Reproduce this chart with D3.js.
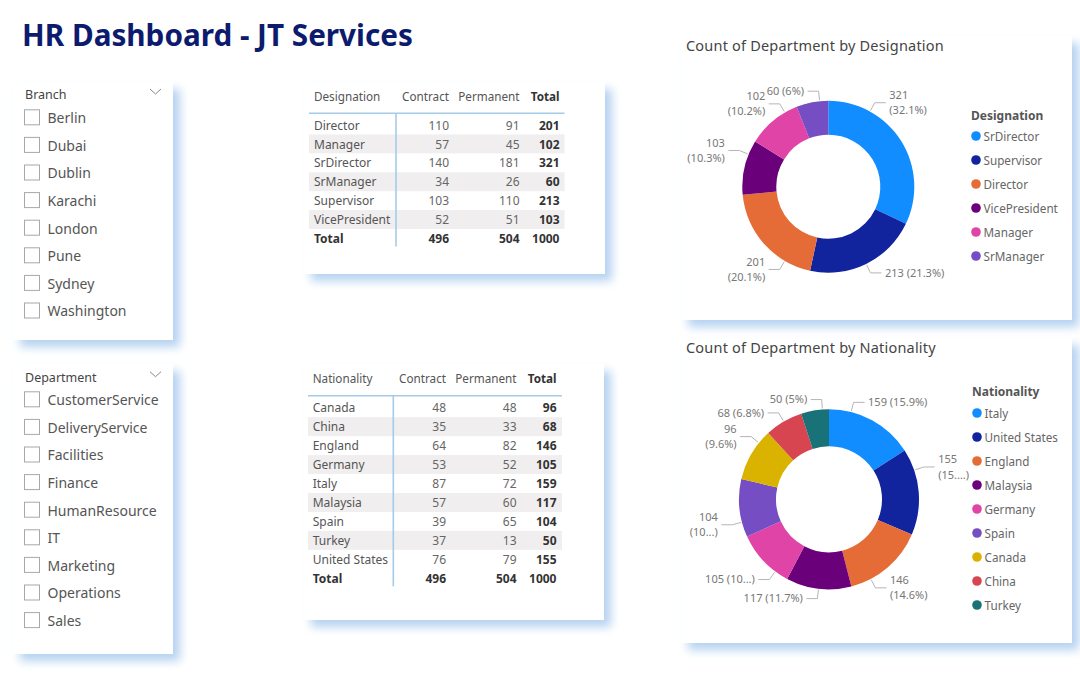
<!DOCTYPE html>
<html>
<head>
<meta charset="utf-8">
<script src="https://cdn.jsdelivr.net/npm/d3@7"></script>
<style>
  html, body { margin: 0; padding: 0; background: #fff; }
  svg { display: block; }
  text { font-family: "Noto Sans", sans-serif; }
</style>
</head>
<body>
<svg id="chart" width="1080" height="675"></svg>
<script>
const branches = ['Berlin', 'Dubai', 'Dublin', 'Karachi', 'London', 'Pune', 'Sydney', 'Washington'];
const departments = ['CustomerService', 'DeliveryService', 'Facilities', 'Finance', 'HumanResource', 'IT', 'Marketing', 'Operations', 'Sales'];

const tableColumns = ['Contract', 'Permanent', 'Total'];
const designationRows = ['Director', 'Manager', 'SrDirector', 'SrManager', 'Supervisor', 'VicePresident', 'Total'];
const designationContract = [110, 57, 140, 34, 103, 52, 496];
const designationPermanent = [91, 45, 181, 26, 110, 51, 504];
const designationTotal = [201, 102, 321, 60, 213, 103, 1000];

const nationalityRows = ['Canada', 'China', 'England', 'Germany', 'Italy', 'Malaysia', 'Spain', 'Turkey', 'United States', 'Total'];
const nationalityContract = [48, 35, 64, 53, 87, 57, 39, 37, 76, 496];
const nationalityPermanent = [48, 33, 82, 52, 72, 60, 65, 13, 79, 504];
const nationalityTotal = [96, 68, 146, 105, 159, 117, 104, 50, 155, 1000];

const donutDesignations = ['SrDirector', 'Supervisor', 'Director', 'VicePresident', 'Manager', 'SrManager'];
const donutDesignationValues = [321, 213, 201, 103, 102, 60];
const donutDesignationLabels = [['321', '(32.1%)'], ['213 (21.3%)'], ['201', '(20.1%)'], ['103', '(10.3%)'], ['102', '(10.2%)'], ['60 (6%)']];
// how far each leader sits from the middle of its slice, in degrees
const donutDesignationShift = [-28.8, 0, -18, 9, 9.6, 5];

const donutNationalities = ['Italy', 'United States', 'England', 'Malaysia', 'Germany', 'Spain', 'Canada', 'China', 'Turkey'];
const donutNationalityValues = [159, 155, 146, 117, 105, 104, 96, 68, 50];
const donutNationalityLabels = [['159 (15.9%)'], ['155', '(15....)'], ['146', '(14.6%)'], ['117 (11.7%)'], ['105 (10...)'], ['104', '(10...)'], ['96', '(9.6%)'], ['68 (6.8%)'], ['50 (5%)']];
const donutNationalityShift = [-14.4, -14, 13, 0, -10, -9, 8.6, 0, 4.8];

const sliceColors = ['#118DFF', '#12239E', '#E66C37', '#6B007B', '#E044A7', '#744EC2', '#D9B300', '#D64550', '#197278'];

const svg = d3.select('#chart');

const shadow = svg.append('defs').append('filter').attr('id', 'card-shadow')
  .attr('x', '-10%').attr('y', '-10%').attr('width', '125%').attr('height', '125%');
shadow.append('feDropShadow').attr('dx', 7).attr('dy', 7).attr('stdDeviation', 5)
  .attr('flood-color', '#a9cbee').attr('flood-opacity', 0.85);

function card(x, y, w, h) {
  svg.append('rect').attr('x', x).attr('y', y).attr('width', w).attr('height', h)
    .attr('fill', '#fff').attr('filter', 'url(#card-shadow)');
}

svg.append('text').attr('x', 22).attr('y', 46)
  .attr('fill', '#0d1b6e').attr('font-size', 29.7).attr('font-weight', 700)
  .attr('font-family', '"Open Sans", sans-serif')
  .text('HR Dashboard - JT Services');

function slicer(box, title, items, headY, firstY, step) {
  card(box.x, box.y, box.w, box.h);
  const g = svg.append('g');
  g.append('text').attr('x', 25).attr('y', headY + 0.6).attr('dy', '0.35em')
    .attr('fill', '#444').attr('font-size', 12.5).text(title);
  g.append('path').attr('d', d3.line()([[150, headY - 5], [155.5, headY], [161, headY - 5]]))
    .attr('fill', 'none').attr('stroke', '#888').attr('stroke-width', 1);
  const y = d3.scaleLinear().domain([0, 1]).range([firstY, firstY + step]);
  const row = g.selectAll('.item').data(items).join('g').attr('class', 'item')
    .attr('transform', (d, i) => `translate(0,${y(i)})`);
  row.append('rect').attr('x', 24.5).attr('y', -7.5).attr('width', 15).attr('height', 15)
    .attr('fill', '#fff').attr('stroke', '#a8a8a8').attr('stroke-width', 1);
  row.append('text').attr('x', 47.5).attr('y', 1).attr('dy', '0.35em')
    .attr('fill', '#555').attr('font-size', 14).text(d => d);
}

function table(box, layout, heading, rows, contract, permanent, total) {
  card(box.x, box.y, box.w, box.h);
  const g = svg.append('g');
  const colX = d3.scaleOrdinal().domain(tableColumns).range(layout.colRight);
  const rowY = d3.scalePoint().domain(rows).range([layout.firstRow, layout.lastRow]);
  const rowH = rowY.step();

  rows.forEach((r, i) => {
    if (i % 2 === 1 && r !== 'Total') {
      g.append('rect').attr('x', layout.left).attr('y', rowY(r) - rowH / 2)
        .attr('width', layout.right - layout.left).attr('height', rowH).attr('fill', '#f0eeee');
    }
  });

  g.append('text').attr('x', layout.textX).attr('y', layout.headY).attr('dy', '0.35em')
    .attr('fill', '#555').attr('font-size', 11.7).text(heading);
  tableColumns.forEach(c => {
    g.append('text').attr('x', colX(c)).attr('y', layout.headY).attr('dy', '0.35em')
      .attr('text-anchor', 'end').attr('font-size', 11.7)
      .attr('fill', c === 'Total' ? '#333' : '#555').attr('font-weight', c === 'Total' ? 700 : 400)
      .text(c);
  });

  rows.forEach((r, i) => {
    const isTotal = r === 'Total';
    g.append('text').attr('x', layout.textX).attr('y', rowY(r) + 0.4).attr('dy', '0.35em')
      .attr('font-size', 12).attr('fill', isTotal ? '#333' : '#555')
      .attr('font-weight', isTotal ? 700 : 400).text(r);
    [contract, permanent, total].forEach((vals, k) => {
      const bold = isTotal || k === 2;
      g.append('text').attr('x', colX(tableColumns[k])).attr('y', rowY(r) + 0.4).attr('dy', '0.35em')
        .attr('text-anchor', 'end').attr('font-size', 12)
        .attr('fill', bold ? '#333' : '#666').attr('font-weight', bold ? 700 : 400)
        .text(vals[i]);
    });
  });

  g.append('line').attr('x1', layout.left).attr('x2', layout.right)
    .attr('y1', layout.lineY).attr('y2', layout.lineY)
    .attr('stroke', '#a5cbe8').attr('stroke-width', 1.6);
  g.append('line').attr('x1', layout.vLine).attr('x2', layout.vLine)
    .attr('y1', layout.lineY).attr('y2', layout.lastRow + 8)
    .attr('stroke', '#a5cbe8').attr('stroke-width', 1.6);
}

function donut(box, layout, title, legendTitle, names, values, labels, shifts) {
  card(box.x, box.y, box.w, box.h);
  const g = svg.append('g');
  g.append('text').attr('x', box.x + 5).attr('y', layout.titleY).attr('dy', '0.35em')
    .attr('fill', '#444').attr('font-size', 14.5).attr('letter-spacing', 0.2)
    .attr('font-family', 'Roboto, sans-serif').text(title);

  const color = d3.scaleOrdinal().domain(names).range(sliceColors);
  const pie = d3.pie().sort(null)(values);
  const arc = d3.arc().innerRadius(layout.inner).outerRadius(layout.outer);
  const plot = g.append('g').attr('transform', `translate(${layout.cx},${layout.cy})`);

  plot.selectAll('.slice').data(pie).join('path').attr('class', 'slice')
    .attr('d', arc).attr('fill', (d, i) => color(names[i]));

  pie.forEach((d, i) => {
    const a = (d.startAngle + d.endAngle) / 2 + shifts[i] * Math.PI / 180;
    const sx = Math.sin(a), sy = -Math.cos(a);
    const side = sx >= 0 ? 1 : -1;
    const p0 = [sx * (layout.outer + 1), sy * (layout.outer + 1)];
    const p1 = [sx * (layout.outer + 10), sy * (layout.outer + 10)];
    const p2 = [p1[0] + side * 11, p1[1]];
    plot.append('path').attr('d', d3.line()([p0, p1, p2]))
      .attr('fill', 'none').attr('stroke', '#b5b5b5').attr('stroke-width', 1);
    const lines = labels[i];
    const lineH = 15.5;
    lines.forEach((t, k) => {
      plot.append('text')
        .attr('x', p2[0] + side * 3.5)
        .attr('y', p2[1] + (k - (lines.length - 1) / 2) * lineH).attr('dy', '0.35em')
        .attr('text-anchor', side > 0 ? 'start' : 'end')
        .attr('fill', '#777').attr('font-size', 11).text(t);
    });
  });

  g.append('text').attr('x', layout.legendX).attr('y', layout.legendTitleY).attr('dy', '0.35em')
    .attr('fill', '#555').attr('font-size', 12).attr('font-weight', 700).text(legendTitle);
  const legendY = d3.scalePoint().domain(names)
    .range([layout.legendFirst, layout.legendFirst + 24 * (names.length - 1)]);
  const item = g.selectAll('.legend-item').data(names).join('g').attr('class', 'legend-item')
    .attr('transform', d => `translate(${layout.legendX},${legendY(d)})`);
  item.append('circle').attr('cx', 5).attr('r', 4.8).attr('fill', d => color(d));
  item.append('text').attr('x', 12.5).attr('y', 0.5).attr('dy', '0.35em')
    .attr('fill', '#666').attr('font-size', 11.7).text(d => d);
}

slicer({ x: 13, y: 82, w: 160, h: 258 }, 'Branch', branches, 94, 117.3, 27.6);
slicer({ x: 13, y: 364, w: 160, h: 290 }, 'Department', departments, 376.7, 399.3, 27.6);

table({ x: 304, y: 82, w: 301, h: 192 },
  { textX: 314, colRight: [449, 519.5, 559.5], headY: 96.7, lineY: 113.3, left: 309, right: 564.5, vLine: 396, firstRow: 125, lastRow: 238.5 },
  'Designation', designationRows, designationContract, designationPermanent, designationTotal);
table({ x: 304, y: 364, w: 300, h: 256 },
  { textX: 312.7, colRight: [446, 516.5, 556.5], headY: 379, lineY: 395.7, left: 308, right: 562, vLine: 393.3, firstRow: 407.7, lastRow: 578.3 },
  'Nationality', nationalityRows, nationalityContract, nationalityPermanent, nationalityTotal);

donut({ x: 681, y: 36, w: 391, h: 284 },
  { titleY: 46, cx: 828.3, cy: 186.7, outer: 86, inner: 52, legendX: 971, legendTitleY: 115.5, legendFirst: 136 },
  'Count of Department by Designation', 'Designation',
  donutDesignations, donutDesignationValues, donutDesignationLabels, donutDesignationShift);
donut({ x: 681, y: 338, w: 391, h: 305 },
  { titleY: 348, cx: 829, cy: 499.3, outer: 90, inner: 53, legendX: 972, legendTitleY: 392, legendFirst: 413 },
  'Count of Department by Nationality', 'Nationality',
  donutNationalities, donutNationalityValues, donutNationalityLabels, donutNationalityShift);
</script>
</body>
</html>
